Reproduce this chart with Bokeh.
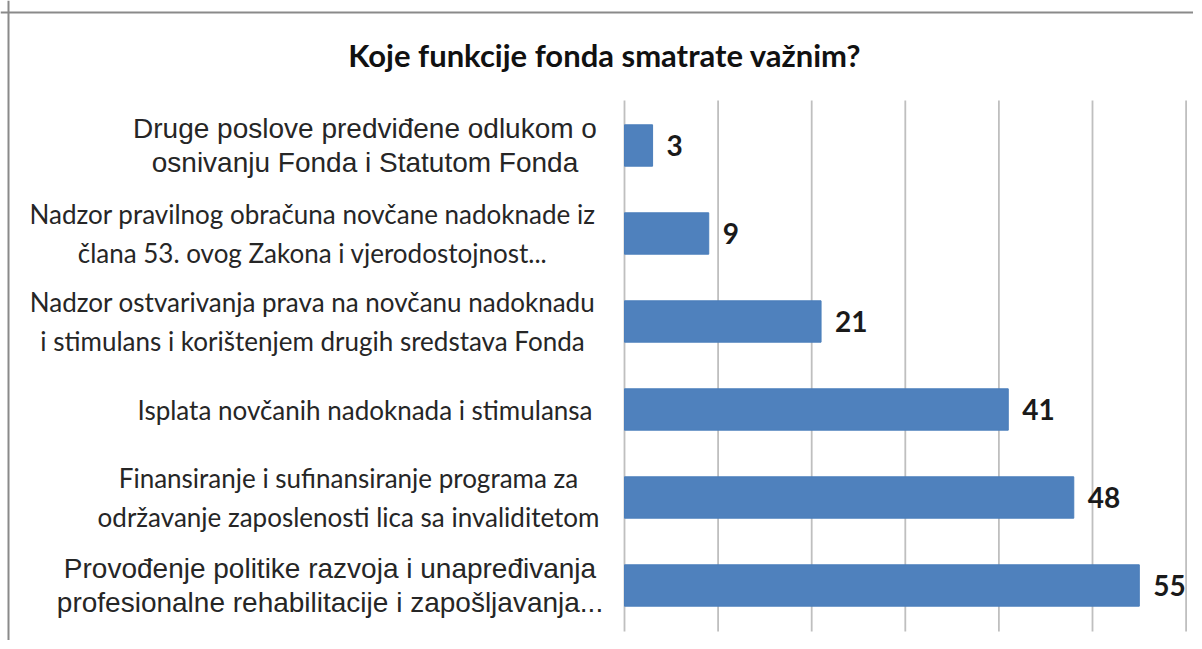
from bokeh.plotting import figure
from bokeh.models import ColumnDataSource, Range1d, Span
from bokeh.core.properties import value
from bokeh.embed import file_html
from bokeh.resources import INLINE

# ---- data ----
title_text = "Koje funkcije  fonda smatrate važnim?"
categories = [
    "Druge poslove predviđene odlukom o\nosnivanju Fonda i Statutom Fonda",
    "Nadzor pravilnog obračuna novčane nadoknade iz\nčlana 53. ovog Zakona i vjerodostojnost...",
    "Nadzor ostvarivanja prava na novčanu nadoknadu\ni stimulans i korištenjem drugih sredstava Fonda",
    "Isplata novčanih nadoknada i stimulansa",
    "Finansiranje i sufinansiranje programa za\nodržavanje zaposlenosti lica sa invaliditetom",
    "Provođenje politike razvoja i unapređivanja\nprofesionalne rehabilitacije i zapošljavanja...",
]
values = [3, 9, 21, 41, 48, 55]
x_ticks = [0, 10, 20, 30, 40, 50, 60]

# ---- styling / layout ----
label_fonts = ["Liberation Sans", "Lato", "Lato", "Lato", "Lato", "Liberation Sans"]
label_sizes = ["28px", "26px", "26px", "26px", "26px", "28px"]
label_line_heights = {"Liberation Sans": 1.1, "Lato": 1.2}
label_block_widths = [465, 570, 570, 465, 498, 535]   # px, used to centre each label block
label_right_px = 598
BAR_COLOR = "#4F81BD"
GRID_COLOR = "#BFBFBF"
BORDER_COLOR = "#8A8A8A"

W, H = 1193, 640            # canvas origin observed at picture (1, 1)
PAGE_X0, PAGE_Y0 = 1, 1
AXIS_PX = 625               # picture x of value 0
PPU = 9.36                  # px per unit along x
CAT_TOP_PX, CAT_BOT_PX = 102, 630
n = len(categories)
PPC = (CAT_BOT_PX - CAT_TOP_PX) / n   # px per category band


def px_to_x(px):
    return (px - AXIS_PX) / PPU


def py_to_y(py):
    return (CAT_BOT_PX - py) / PPC


p = figure(width=W, height=H,
           x_range=Range1d(px_to_x(PAGE_X0), px_to_x(PAGE_X0 + W)),
           y_range=Range1d(py_to_y(PAGE_Y0 + H), py_to_y(PAGE_Y0)),
           x_axis_location=None, y_axis_location=None,
           output_backend="svg", toolbar_location=None,
           min_border=0)
p.outline_line_color = None
p.xgrid.visible = False
p.ygrid.visible = False
p.background_fill_color = "white"
p.border_fill_color = "white"

# chart-area border (top and left edges visible in the crop)
p.add_layout(Span(location=px_to_x(9), dimension="height",
                  line_color=BORDER_COLOR, line_width=2))
p.add_layout(Span(location=py_to_y(13), dimension="width",
                  line_color=BORDER_COLOR, line_width=2))

# vertical grid lines across the category area
p.segment(x0=x_ticks, x1=x_ticks,
          y0=[py_to_y(CAT_BOT_PX + 2)] * len(x_ticks),
          y1=[py_to_y(CAT_TOP_PX - 1)] * len(x_ticks),
          line_color=GRID_COLOR, line_width=1.8)

y_pos = [n - i - 0.5 for i in range(n)]
src = ColumnDataSource(dict(
    y=y_pos,
    val=values,
    val_txt=[str(v) for v in values],
))
p.hbar(y="y", right="val", left=0, height=0.47, source=src,
       fill_color=BAR_COLOR, line_color="#4A7EBB", line_width=1)

p.text(x="val", y="y", text="val_txt", source=src,
       x_offset=14, text_baseline="middle", text_align="left",
       text_font=value("Lato"), text_font_style="bold",
       text_font_size="28px", text_color="#1a1a1a")

# category labels: lines centred, block ending near the axis
for font, size in sorted(set(zip(label_fonts, label_sizes))):
    idx = [i for i in range(n) if label_fonts[i] == font and label_sizes[i] == size]
    lsrc = ColumnDataSource(dict(
        txt=[categories[i] for i in idx],
        y=[y_pos[i] for i in idx],
        x=[px_to_x(label_right_px - label_block_widths[i] / 2) for i in idx],
    ))
    p.text(x="x", y="y", text="txt", source=lsrc,
           text_align="center", text_baseline="middle",
           text_font=value(font), text_font_size=size,
           text_line_height=label_line_heights[font], text_color="#262626")

p.text(x=[px_to_x(609)], y=[py_to_y(55)], text=[title_text],
       text_align="center", text_baseline="middle",
       text_font=value("Lato"), text_font_style="bold",
       text_font_size="31px", text_color="#111111")

open("out.html", "w").write(file_html(p, INLINE))
